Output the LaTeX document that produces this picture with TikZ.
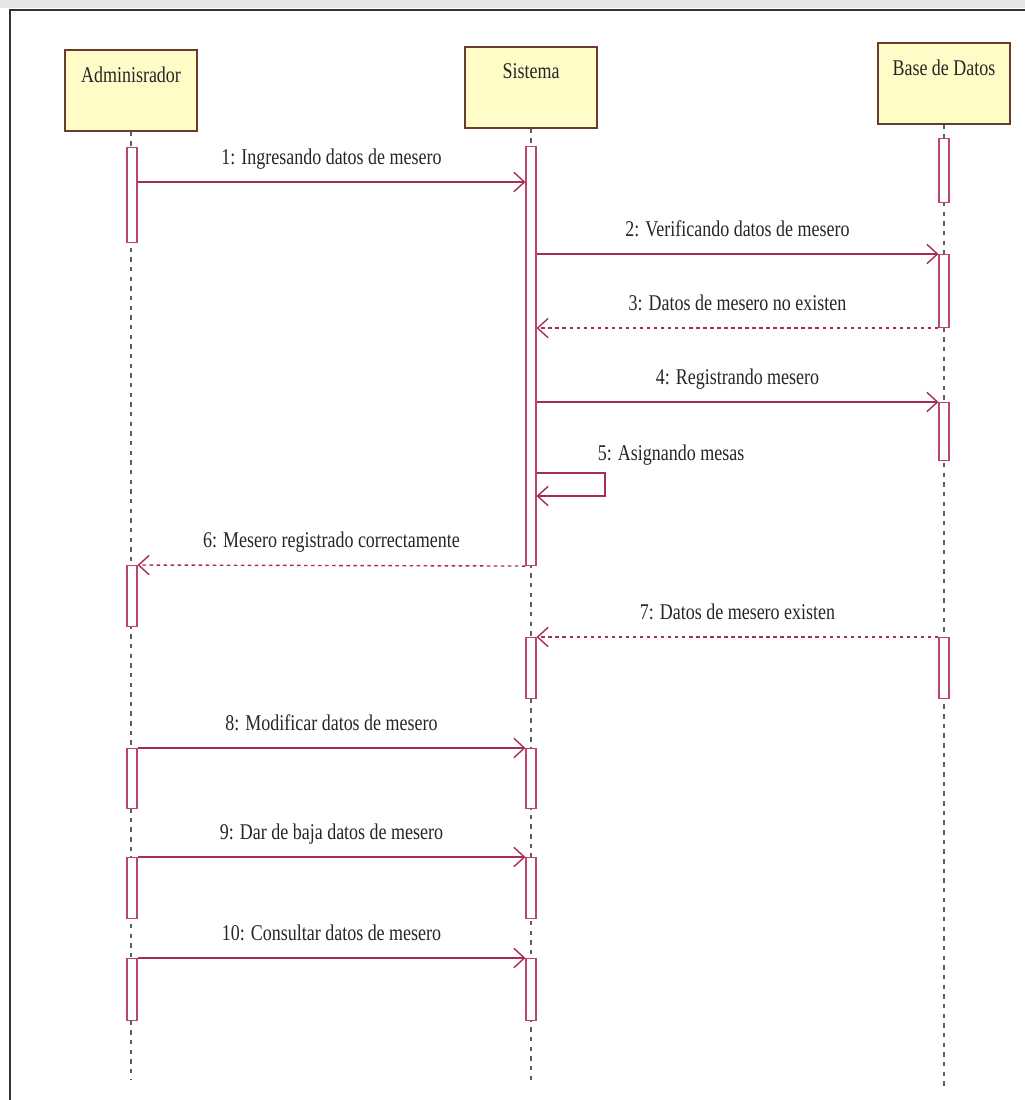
\documentclass[tikz,border=0pt]{standalone}
\usepackage{fontspec}
\setmainfont{Liberation Serif}[FakeStretch=0.8]
\usetikzlibrary{arrows.meta}

\definecolor{msgcol}{RGB}{165,45,90}
\definecolor{actcol}{RGB}{185,70,110}
\definecolor{boxcol}{RGB}{105,60,45}
\definecolor{boxfill}{RGB}{255,252,200}
\definecolor{lifecol}{RGB}{95,95,95}

\tikzset{
  actor/.style={draw=boxcol, line width=0.8pt, fill=boxfill, minimum width=2.64cm, minimum height=1.62cm, inner sep=0pt},
  actorlbl/.style={below=6.5pt, text=black!85, font=\fontsize{12.8}{14}\selectfont},
  actbar/.style={draw=actcol, line width=0.6pt, fill=white, minimum width=0.2cm, inner sep=0pt, anchor=north},
  life/.style={lifecol, line width=0.7pt, dash pattern=on 2.5pt off 3pt},
  msg/.style={msgcol, line width=0.8pt, -{Straight Barb[length=6pt,width=11pt]}},
  reply/.style={msg, dash pattern=on 2pt off 2pt},
  lbl/.style={above=4pt, text=black!85, font=\fontsize{12.8}{14}\selectfont, text depth=0.25em}
}
% activation bar: name, x, top, bottom
\newcommand{\actbar}[4]{\node[actbar, minimum height={(#4-#3)*0.02cm}] (#1) at (#2,#3) {};}

\begin{document}
\begin{tikzpicture}[x=0.02cm, y=-0.02cm]
    \useasboundingbox (0,0) rectangle (1025,1100);
    \fill[black!10] (0,0) rectangle (1025,8);
    \draw[black!80, line width=1.2pt] (10,1120) -- (10,10) -- (1040,10);

    % actors
    \node[actor, label={[actorlbl]north:Adminisrador}] (adm) at (131,90.5) {};
    \node[actor, label={[actorlbl]north:Sistema}] (sis) at (531,87.5) {};
    \node[actor, label={[actorlbl]north:Base de Datos}] (bd) at (944,83.5) {};

    % lifelines
    \draw[life] (adm.south) -- (adm.south |- 0,1080);
    \draw[life] (sis.south) -- (sis.south |- 0,1085);
    \draw[life] (bd.south) -- (bd.south |- 0,1090);

    % activations
    \actbar{aA1}{132}{147}{242}
    \actbar{aA2}{132}{565}{626}
    \actbar{aA3}{132}{748}{808}
    \actbar{aA4}{132}{857}{918}
    \actbar{aA5}{132}{958}{1020}
    \actbar{aS1}{531}{146}{565}
    \actbar{aS2}{531}{637}{698}
    \actbar{aS3}{531}{748}{808}
    \actbar{aS4}{531}{857}{918}
    \actbar{aS5}{531}{958}{1020}
    \actbar{aB1}{944}{138}{202}
    \actbar{aB2}{944}{254}{327}
    \actbar{aB3}{944}{402}{460}
    \actbar{aB4}{944}{637}{698}

    % messages
    \draw[msg] (aA1.east |- 0,182) -- (aS1.west |- 0,182) node[lbl, midway] {1: Ingresando datos de mesero};
    \draw[msg] (aS1.east |- aB2.north) -- (aB2.north west) node[lbl, midway] {2: Verificando datos de mesero};
    \draw[reply] (aB2.south west) -- (aS1.east |- aB2.south) node[lbl, midway] {3: Datos de mesero no existen};
    \draw[msg] (aS1.east |- aB3.north) -- (aB3.north west) node[lbl, midway] {4: Registrando mesero};
    \draw[msg] (aS1.east |- 0,473) -- (605,473) node[lbl, pos=0.8, anchor=south west, yshift=-3pt] {5: Asignando mesas}
        -- (605,496) -- (aS1.east |- 0,496);
    \draw[reply] (aS1.south west) -- (aA2.north east) node[lbl, midway] {6: Mesero registrado correctamente};
    \draw[reply] (aB4.north west) -- (aS2.north east) node[lbl, midway] {7: Datos de mesero existen};
    \draw[msg] (aA3.north east) -- (aS3.north west) node[lbl, midway] {8: Modificar datos de mesero};
    \draw[msg] (aA4.north east) -- (aS4.north west) node[lbl, midway] {9: Dar de baja datos de mesero};
    \draw[msg] (aA5.north east) -- (aS5.north west) node[lbl, midway] {10: Consultar datos de mesero};
\end{tikzpicture}
\end{document}
